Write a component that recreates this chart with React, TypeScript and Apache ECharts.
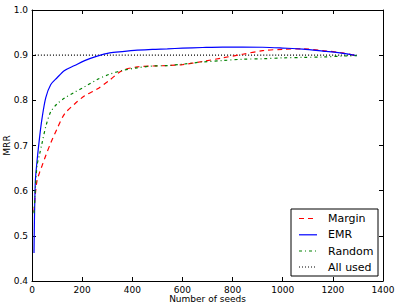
import React, { useEffect, useRef } from "react";
import * as echarts from "echarts";

// Number of seeds at which each method was evaluated
const seeds = [8, 13, 20, 30, 40, 55, 75, 100, 130, 170, 210, 260, 310, 360, 420, 480, 540, 600, 680, 760, 840, 920, 1000, 1080, 1160, 1240, 1295];

const margin = [0.553, 0.59, 0.622, 0.64, 0.655, 0.678, 0.706, 0.737, 0.77, 0.792, 0.81, 0.825, 0.845, 0.866, 0.874, 0.876, 0.877, 0.879, 0.886, 0.894, 0.902, 0.91, 0.913, 0.914, 0.91, 0.905, 0.898];
const emr = [0.462, 0.617, 0.665, 0.717, 0.76, 0.806, 0.835, 0.85, 0.866, 0.877, 0.888, 0.898, 0.905, 0.908, 0.911, 0.913, 0.914, 0.9155, 0.917, 0.918, 0.918, 0.9175, 0.9157, 0.9135, 0.909, 0.904, 0.899];
const random = [0.55, 0.6, 0.655, 0.68, 0.705, 0.742, 0.775, 0.792, 0.805, 0.818, 0.83, 0.846, 0.858, 0.866, 0.872, 0.876, 0.877, 0.88, 0.885, 0.888, 0.891, 0.892, 0.894, 0.895, 0.896, 0.898, 0.899];
// Baseline using every seed
const allUsedX = [0, 1295];
const allUsed = [0.9, 0.9];

const seriesNames = ["Margin", "EMR", "Random", "All used"];
const seriesColors = ["#ff0000", "#0000ff", "#008000", "#000000"];
const seriesDash: number[][] = [[5, 4], [], [3, 3, 1, 3], [1, 2]];

const xTicks = { min: 0, max: 1400, interval: 200 };
const yTicks = { min: 0.4, max: 1.0, interval: 0.1 };

const FONT = "DejaVu Sans";

export default function App() {
  const ref = useRef<HTMLDivElement>(null);

  useEffect(() => {
    if (!ref.current) return;
    const chart = echarts.init(ref.current, undefined, { renderer: "svg" });

    const pairs = (xs: number[], ys: number[]) => xs.map((x, i) => [x, ys[i]]);
    const seriesData = [
      pairs(seeds, margin),
      pairs(seeds, emr),
      pairs(seeds, random),
      pairs(allUsedX, allUsed),
    ];

    const axisLine = { show: true, onZero: false, lineStyle: { color: "#000", width: 1 } };
    const tick = { show: true, inside: true, length: 4, lineStyle: { color: "#000", width: 1 } };

    // Legend drawn as a bordered box with line samples
    const lgX = 291, lgY = 209, lgW = 87, lgH = 67;
    const rowY = [218.5, 234.8, 251, 267];
    const legendEls: any[] = [
      {
        type: "rect",
        shape: { x: lgX, y: lgY, width: lgW, height: lgH },
        style: { fill: "#fff", stroke: "#000", lineWidth: 1 },
        z: 100,
      },
    ];
    seriesNames.forEach((name, i) => {
      legendEls.push({
        type: "line",
        shape: { x1: 299, y1: rowY[i], x2: 317, y2: rowY[i] },
        style: { stroke: seriesColors[i], lineWidth: 1.2, lineDash: seriesDash[i].length ? seriesDash[i] : null },
        z: 101,
      });
      legendEls.push({
        type: "text",
        x: 328,
        y: rowY[i],
        style: { text: name, fill: "#000", font: `11px '${FONT}'`, verticalAlign: "middle" },
        z: 101,
      });
    });

    chart.setOption({
      animation: false,
      backgroundColor: "#fff",
      textStyle: { fontFamily: FONT },
      grid: { left: 32, right: 13, top: 10, bottom: 23, containLabel: false, outerBoundsMode: "none" },
      xAxis: [
        {
          type: "value",
          ...xTicks,
          position: "bottom",
          name: "Number of seeds",
          nameLocation: "middle",
          nameGap: 18,
          nameMoveOverlap: false,
          nameTextStyle: { fontSize: 9, lineHeight: 9, color: "#000", fontFamily: FONT, align: "center", verticalAlign: "middle" },
          axisLine,
          axisTick: tick,
          axisLabel: { fontSize: 9, lineHeight: 9, color: "#000", margin: 4, fontFamily: FONT, formatter: (v: number) => String(v) },
          splitLine: { show: false },
        },
        {
          type: "value",
          ...xTicks,
          position: "top",
          axisLine,
          axisTick: tick,
          axisLabel: { show: false },
          splitLine: { show: false },
        },
      ],
      yAxis: [
        {
          type: "value",
          ...yTicks,
          position: "left",
          name: "MRR",
          nameLocation: "middle",
          nameGap: 25.5,
          nameRotate: 90,
          nameMoveOverlap: false,
          nameTextStyle: { fontSize: 9, lineHeight: 10, color: "#000", fontFamily: FONT, align: "center", verticalAlign: "middle" },
          axisLine,
          axisTick: tick,
          axisLabel: { fontSize: 9, color: "#000", margin: 4, fontFamily: FONT, formatter: (v: number) => v.toFixed(1) },
          splitLine: { show: false },
        },
        {
          type: "value",
          ...yTicks,
          position: "right",
          axisLine,
          axisTick: tick,
          axisLabel: { show: false },
          splitLine: { show: false },
        },
      ],
      series: seriesNames.map((name, i) => ({
        name,
        type: "line",
        xAxisIndex: 0,
        yAxisIndex: 0,
        data: seriesData[i],
        showSymbol: false,
        symbol: "none",
        smooth: 0.3,
        lineStyle: {
          color: seriesColors[i],
          width: 1.2,
          type: seriesDash[i].length ? seriesDash[i] : "solid",
        },
        z: i === 3 ? 1 : 2 + i,
      })),
      graphic: legendEls,
    });

    return () => chart.dispose();
  }, []);

  return (
    <div
      ref={ref}
      style={{ position: "fixed", left: 0, top: 0, width: 396, height: 304 }}
    />
  );
}
